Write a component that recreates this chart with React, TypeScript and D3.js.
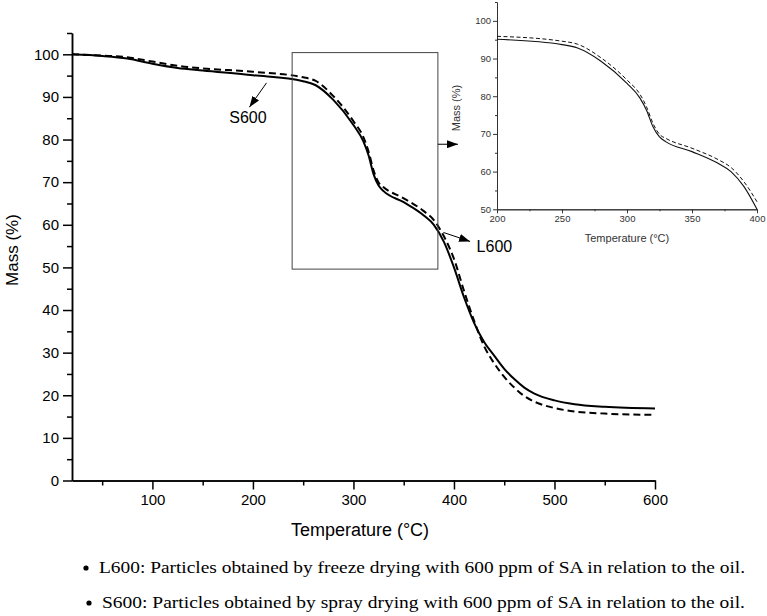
import { useEffect, useRef } from "react";
import * as d3 from "d3";

// temperature (°C) and mass (%)
const TEMP = [20, 50, 75, 100, 125, 150, 200, 250, 262, 280, 300, 310, 315, 320, 325, 330, 350, 370, 380, 390, 400, 410, 420, 430, 440, 450, 460, 470, 480, 500, 520, 550, 600];
const L600 = [100, 99.6, 99, 97.8, 96.8, 96.2, 95.1, 93.7, 92.8, 89.3, 83.4, 79.5, 76.3, 71.9, 69.2, 67.9, 65.3, 62.2, 60, 56, 50, 43, 37, 32.5, 29.3, 26.2, 23.8, 21.8, 20.4, 18.8, 17.9, 17.3, 16.9];
const S600 = [100, 99.7, 99.3, 98.3, 97.3, 96.7, 95.9, 94.6, 93.8, 90.2, 84.3, 80.5, 77.2, 72.8, 69.9, 68.8, 66.2, 63.2, 61.1, 57.3, 52, 44.5, 37.5, 31.5, 27.5, 24.3, 21.8, 19.8, 18.5, 17.0, 16.2, 15.7, 15.4];

const X_TICKS = [100, 200, 300, 400, 500, 600];
const X_MINOR = [50, 150, 250, 350, 450, 550];
const Y_TICKS = [0, 10, 20, 30, 40, 50, 60, 70, 80, 90, 100];
const Y_MINOR = [5, 15, 25, 35, 45, 55, 65, 75, 85, 95, 105];

const INSET_X_TICKS = [200, 250, 300, 350, 400];
const INSET_X_MINOR = [225, 275, 325, 375];
const INSET_Y_TICKS = [50, 60, 70, 80, 90, 100];
const INSET_Y_MINOR = [55, 65, 75, 85, 95, 105];

const NOTES = [
  "L600: Particles obtained by freeze drying with 600 ppm of SA in relation to the oil.",
  "S600: Particles obtained by spray drying with 600 ppm of SA in relation to the oil.",
];

const SANS = "'Liberation Sans', Arial, sans-serif";
const SERIF = "'Liberation Serif', 'Times New Roman', serif";

export default function App() {
  const svgRef = useRef<SVGSVGElement>(null);

  useEffect(() => {
    if (!svgRef.current) return;
    const svg = d3.select(svgRef.current);
    svg.selectAll("*").remove();

    const x = d3.scaleLinear().domain([20, 600]).range([72, 655]);
    const y = d3.scaleLinear().domain([0, 105]).range([480.5, 33]);

    const defs = svg.append("defs");
    defs.append("marker")
      .attr("id", "arr")
      .attr("markerUnits", "userSpaceOnUse")
      .attr("markerWidth", 12).attr("markerHeight", 8)
      .attr("refX", 11).attr("refY", 4)
      .attr("orient", "auto")
      .append("path").attr("d", "M0,0 L11,4 L0,8 z").attr("fill", "#000");

    const styleAxis = (g: d3.Selection<SVGGElement, unknown, null, undefined>, size: number, color: string, w: number) => {
      g.select(".domain").attr("stroke", color).attr("stroke-width", w);
      g.selectAll(".tick line").attr("stroke", color).attr("stroke-width", w);
      g.selectAll("text").attr("fill", color).attr("font-family", SANS).attr("font-size", size);
    };

    // --- main axes ---
    const xAx = svg.append("g").attr("transform", "translate(0,480.5)")
      .call(d3.axisBottom(x).tickValues(X_TICKS).tickSize(9).tickSizeOuter(0).tickPadding(5));
    styleAxis(xAx, 15, "#000", 1.5);
    const xMin = svg.append("g").attr("transform", "translate(0,480.5)")
      .call(d3.axisBottom(x).tickValues(X_MINOR).tickSize(5).tickSizeOuter(0).tickFormat(() => ""));
    styleAxis(xMin, 15, "#000", 1.5);

    const yAx = svg.append("g").attr("transform", "translate(72,0)")
      .call(d3.axisLeft(y).tickValues(Y_TICKS).tickSize(9).tickSizeOuter(0).tickPadding(4));
    styleAxis(yAx, 15, "#000", 1.5);
    const yMin = svg.append("g").attr("transform", "translate(72,0)")
      .call(d3.axisLeft(y).tickValues(Y_MINOR).tickSize(5).tickSizeOuter(0).tickFormat(() => ""));
    styleAxis(yMin, 15, "#000", 1.5);

    svg.append("text")
      .attr("x", 360).attr("y", 536)
      .attr("text-anchor", "middle")
      .attr("font-family", SANS).attr("font-size", 18)
      .text("Temperature (°C)");
    svg.append("text")
      .attr("transform", "translate(18,250) rotate(-90)")
      .attr("text-anchor", "middle")
      .attr("font-family", SANS).attr("font-size", 17)
      .text("Mass (%)");

    // --- main curves ---
    const line = d3.line<number>()
      .x((_, i) => x(TEMP[i]))
      .y((d) => y(d))
      .curve(d3.curveMonotoneX);

    svg.append("path").datum(S600).attr("d", line)
      .attr("fill", "none").attr("stroke", "#000").attr("stroke-width", 2)
      .attr("stroke-dasharray", "7,4");
    svg.append("path").datum(L600).attr("d", line)
      .attr("fill", "none").attr("stroke", "#000").attr("stroke-width", 2);

    // zoom box + annotation arrows
    svg.append("rect")
      .attr("x", x(239)).attr("y", y(100.4))
      .attr("width", x(384) - x(239)).attr("height", y(49.6) - y(100.4))
      .attr("fill", "none").attr("stroke", "#444").attr("stroke-width", 1);

    const arrow = (t0: number, m0: number, t1: number, m1: number) =>
      svg.append("line")
        .attr("x1", x(t0)).attr("y1", y(m0)).attr("x2", x(t1)).attr("y2", y(m1))
        .attr("stroke", "#000").attr("stroke-width", 1)
        .attr("marker-end", "url(#arr)");

    arrow(213.5, 93.3, 196.5, 87.6);
    arrow(389.5, 58.2, 416, 56.1);
    arrow(384, 78.9, 404, 78.9);

    svg.append("text")
      .attr("x", x(195)).attr("y", y(85.2))
      .attr("text-anchor", "middle").attr("dominant-baseline", "central")
      .attr("font-family", SANS).attr("font-size", 16)
      .text("S600");
    svg.append("text")
      .attr("x", x(422.5)).attr("y", y(55))
      .attr("dominant-baseline", "central")
      .attr("font-family", SANS).attr("font-size", 16)
      .text("L600");

    // --- inset ---
    const ix = d3.scaleLinear().domain([200, 400]).range([497, 757]);
    const iy = d3.scaleLinear().domain([50, 105]).range([209.3, 2]);
    const inset = svg.append("g");

    const ixAx = inset.append("g").attr("transform", "translate(0,209.3)")
      .call(d3.axisBottom(ix).tickValues(INSET_X_TICKS).tickSize(4).tickSizeOuter(0).tickPadding(2));
    styleAxis(ixAx, 9.5, "#333", 1);
    const ixMin = inset.append("g").attr("transform", "translate(0,209.3)")
      .call(d3.axisBottom(ix).tickValues(INSET_X_MINOR).tickSize(2).tickSizeOuter(0).tickFormat(() => ""));
    styleAxis(ixMin, 9.5, "#333", 1);
    const iyAx = inset.append("g").attr("transform", "translate(497,0)")
      .call(d3.axisLeft(iy).tickValues(INSET_Y_TICKS).tickSize(4).tickSizeOuter(0).tickPadding(2));
    styleAxis(iyAx, 9.5, "#333", 1);
    const iyMin = inset.append("g").attr("transform", "translate(497,0)")
      .call(d3.axisLeft(iy).tickValues(INSET_Y_MINOR).tickSize(2).tickSizeOuter(0).tickFormat(() => ""));
    styleAxis(iyMin, 9.5, "#333", 1);

    inset.append("text")
      .attr("x", 627).attr("y", 242)
      .attr("text-anchor", "middle")
      .attr("fill", "#333").attr("font-family", SANS).attr("font-size", 11)
      .text("Temperature (°C)");
    inset.append("text")
      .attr("transform", "translate(460,108) rotate(-90)")
      .attr("text-anchor", "middle")
      .attr("fill", "#333").attr("font-family", SANS).attr("font-size", 11)
      .text("Mass (%)");

    const idx = TEMP.map((_, i) => i).filter((i) => TEMP[i] >= 200 && TEMP[i] <= 400);
    const iline = d3.line<number>()
      .x((i) => ix(TEMP[i]))
      .curve(d3.curveMonotoneX);

    inset.append("path").datum(idx).attr("d", iline.y((i) => iy(S600[i])))
      .attr("fill", "none").attr("stroke", "#111").attr("stroke-width", 1)
      .attr("stroke-dasharray", "4,2.5");
    inset.append("path").datum(idx).attr("d", iline.y((i) => iy(L600[i])))
      .attr("fill", "none").attr("stroke", "#111").attr("stroke-width", 1.1);

    // --- notes ---
    const notes = svg.append("g");
    NOTES.forEach((n, i) => {
      const by = 573 + i * 35;
      const bx = 86 + i * 3;
      notes.append("circle").attr("cx", bx).attr("cy", by - 5).attr("r", 2.6).attr("fill", "#000");
      notes.append("text")
        .attr("x", bx + 13).attr("y", by)
        .attr("font-family", SERIF).attr("font-size", 16.5)
        .attr("textLength", 745 - (bx + 13))
        .attr("lengthAdjust", "spacingAndGlyphs")
        .text(n);
    });
  }, []);

  return (
    <svg
      ref={svgRef}
      width={767}
      height={616}
      style={{ position: "absolute", left: 0, top: 0, background: "#fff" }}
    />
  );
}
